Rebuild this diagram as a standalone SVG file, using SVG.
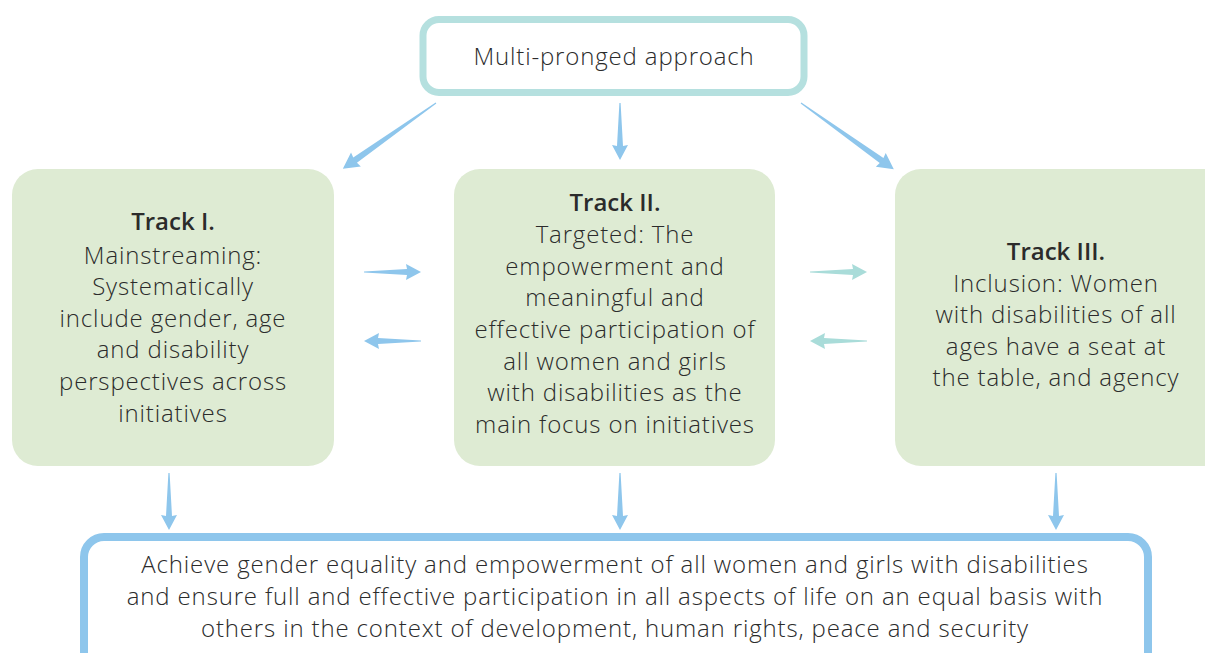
<svg xmlns="http://www.w3.org/2000/svg" width="1205" height="653" viewBox="0 0 1205 653">
<style>
.t{font-family:"Open Sans","Noto Sans","Liberation Sans",sans-serif;font-size:24px;font-weight:300;letter-spacing:0.85px;fill:#2b2b2b;text-anchor:middle}
.b{font-weight:600;letter-spacing:0}
.track{fill:#deebd3}
.ab{fill:#8ec6ec}
.at{fill:#a9dcd9}
</style>
<defs>
<path id="a57" d="M0,-0.6 L43,-3 L42,-8 L57,0 L42,8 L43,3 L0,0.6 Z"/>
<path id="a114" d="M0,-0.6 L99,-3.2 L98,-8.5 L114,0 L98,8.5 L99,3.2 L0,0.6 Z"/>
</defs>
<rect width="1205" height="653" fill="#fff"/>
<g id="top">
<rect x="423" y="19.5" width="381" height="73" rx="16" fill="#fff" stroke="#b5e0df" stroke-width="7"/>
<text class="t" x="614" y="65">Multi-pronged approach</text>
</g>
<g id="track1">
<rect class="track" x="12" y="169" width="322" height="297" rx="26"/>
<text class="t" x="173"><tspan class="b" x="173" y="230">Track I.</tspan><tspan x="173" y="264">Mainstreaming:</tspan><tspan x="173" y="295">Systematically</tspan><tspan x="173" y="327">include gender, age</tspan><tspan x="173" y="358">and disability</tspan><tspan x="173" y="390">perspectives across</tspan><tspan x="173" y="422">initiatives</tspan></text>
</g>
<g id="track2">
<rect class="track" x="454" y="169" width="321" height="297" rx="26"/>
<text class="t" x="615"><tspan class="b" x="615" y="211">Track II.</tspan><tspan x="615" y="243">Targeted: The</tspan><tspan x="615" y="275">empowerment and</tspan><tspan x="615" y="306">meaningful and</tspan><tspan x="615" y="338">effective participation of</tspan><tspan x="615" y="370">all women and girls</tspan><tspan x="615" y="401">with disabilities as the</tspan><tspan x="615" y="433">main focus on initiatives</tspan></text>
</g>
<g id="track3">
<rect class="track" x="895" y="169" width="340" height="297" rx="26"/>
<text class="t" x="1056"><tspan class="b" x="1056" y="260">Track III.</tspan><tspan x="1056" y="292">Inclusion: Women</tspan><tspan x="1056" y="323">with disabilities of all</tspan><tspan x="1056" y="355">ages have a seat at</tspan><tspan x="1056" y="386">the table, and agency</tspan></text>
</g>
<g id="goal">
<rect x="84" y="537" width="1064" height="150" rx="20" fill="#fff" stroke="#8ec6ec" stroke-width="8"/>
<text class="t" x="615"><tspan x="615" y="573">Achieve gender equality and empowerment of all women and girls with disabilities</tspan><tspan x="615" y="605">and ensure full and effective participation in all aspects of life on an equal basis with</tspan><tspan x="615" y="637">others in the context of development, human rights, peace and security</tspan></text>
</g>
<g id="connectors">
<use href="#a114" class="ab" transform="translate(436,103) rotate(144.8)"/>
<use href="#a57" class="ab" transform="translate(620,103) rotate(90)"/>
<use href="#a114" class="ab" transform="translate(801,103) rotate(35.5)"/>
<use href="#a57" class="ab" transform="translate(364,272)"/>
<use href="#a57" class="ab" transform="translate(421,341) rotate(180)"/>
<use href="#a57" class="at" transform="translate(810,272)"/>
<use href="#a57" class="at" transform="translate(867,341) rotate(180)"/>
<use href="#a57" class="ab" transform="translate(169,473) rotate(90)"/>
<use href="#a57" class="ab" transform="translate(620,473) rotate(90)"/>
<use href="#a57" class="ab" transform="translate(1056,473) rotate(90)"/>
</g>
</svg>
